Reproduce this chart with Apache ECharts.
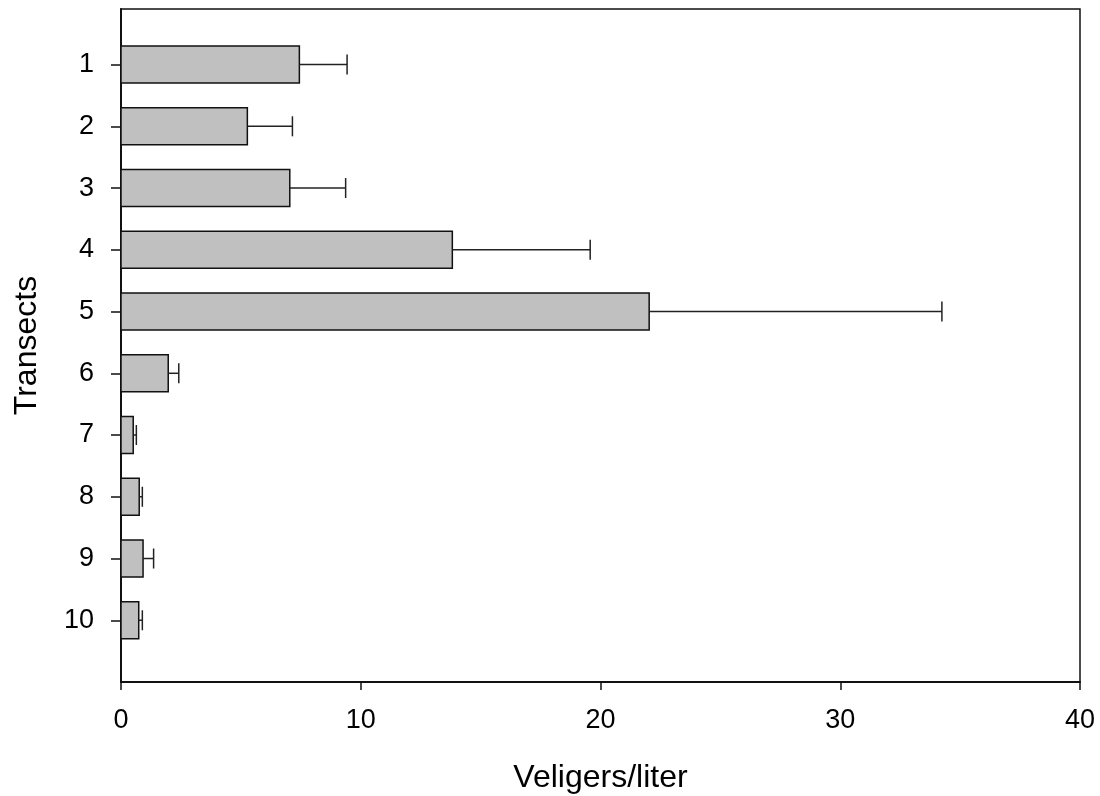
<!DOCTYPE html>
<html>
<head>
<meta charset="utf-8">
<script src="https://cdn.jsdelivr.net/npm/echarts@6/dist/echarts.min.js"></script>
<style>
  html, body { margin: 0; padding: 0; background: #fff; }
  #main { width: 1100px; height: 796px; }
</style>
</head>
<body>
<div id="main"></div>
<script>
// 数据
var transects = [1, 2, 3, 4, 5, 6, 7, 8, 9, 10];
var means = [7.44, 5.27, 7.04, 13.82, 22.03, 1.97, 0.51, 0.76, 0.92, 0.74];
var errors = [1.99, 1.88, 2.33, 5.75, 12.21, 0.44, 0.13, 0.13, 0.44, 0.15];
var xTicks = [0, 10, 20, 30, 40];

var barData = [];
var errData = [];
for (var i = 0; i < transects.length; i++) {
	barData.push([means[i], transects[i]]);
	errData.push([means[i], transects[i], means[i] + errors[i]]);
}

var chart = echarts.init(document.getElementById('main'));
var fontFam = 'Liberation Sans, Arial, sans-serif';

// 画柱子
function renderBar(params, api) {
	var y = api.value(1);
	var start = api.coord([0, y]);
	var end = api.coord([api.value(0), y]);
	var h = api.size([0, 0.6])[1];
	return {
		type : 'rect',
		shape : {
			x : start[0],
			y : start[1] - h / 2,
			width : end[0] - start[0],
			height : h
		},
		style : {
			fill : '#c0c0c0',
			stroke : '#111',
			lineWidth : 1.5
		}
	};
}

// 误差线
function renderErr(params, api) {
	var y = api.value(1);
	var a = api.coord([api.value(0), y]);
	var b = api.coord([api.value(2), y]);
	var cap = 10;
	var st = { stroke : '#222', lineWidth : 1.5 };
	return {
		type : 'group',
		children : [ {
			type : 'line',
			shape : { x1 : a[0], y1 : a[1], x2 : b[0], y2 : b[1] },
			style : st
		}, {
			type : 'line',
			shape : { x1 : b[0], y1 : b[1] - cap, x2 : b[0], y2 : b[1] + cap },
			style : st
		} ]
	};
}

var option = {
	animation : false,
	grid : {
		left : 121,
		right : 20,
		top : 9,
		bottom : 114,
		outerBoundsMode : 'none',
		containLabel : false,
		show : true,
		borderColor : '#111',
		borderWidth : 1.5
	},
	xAxis : {
		type : 'value',
		min : 0,
		max : 40,
		interval : 10,
		name : 'Veligers/liter',
		nameLocation : 'middle',
		nameGap : 80,
		nameTextStyle : { fontSize : 32, color : '#000', fontFamily : fontFam },
		axisLine : { show : true, lineStyle : { color : '#111', width : 2 } },
		axisTick : { show : true, length : 8, lineStyle : { color : '#111', width : 1.5 } },
		axisLabel : {
			margin : 25,
			fontSize : 27,
			color : '#000',
			fontFamily : fontFam,
			customValues : xTicks
		},
		splitLine : { show : false }
	},
	yAxis : {
		type : 'value',
		inverse : true,
		min : 0.1,
		max : 11,
		name : 'Transects',
		nameLocation : 'middle',
		nameGap : 78,
		nameTextStyle : { fontSize : 32, color : '#000', fontFamily : fontFam },
		axisLine : { show : true, lineStyle : { color : '#111', width : 2 } },
		axisTick : {
			show : true,
			length : 10,
			lineStyle : { color : '#111', width : 1.5 },
			customValues : transects
		},
		axisLabel : {
			margin : 27,
			fontSize : 27,
			color : '#000',
			fontFamily : fontFam,
			customValues : transects
		},
		splitLine : { show : false }
	},
	series : [ {
		type : 'custom',
		renderItem : renderBar,
		encode : { x : 0, y : 1 },
		data : barData,
		z : 2
	}, {
		type : 'custom',
		renderItem : renderErr,
		encode : { x : [ 0, 2 ], y : 1 },
		data : errData,
		z : 3
	} ]
};
chart.setOption(option);
</script>
</body>
</html>
